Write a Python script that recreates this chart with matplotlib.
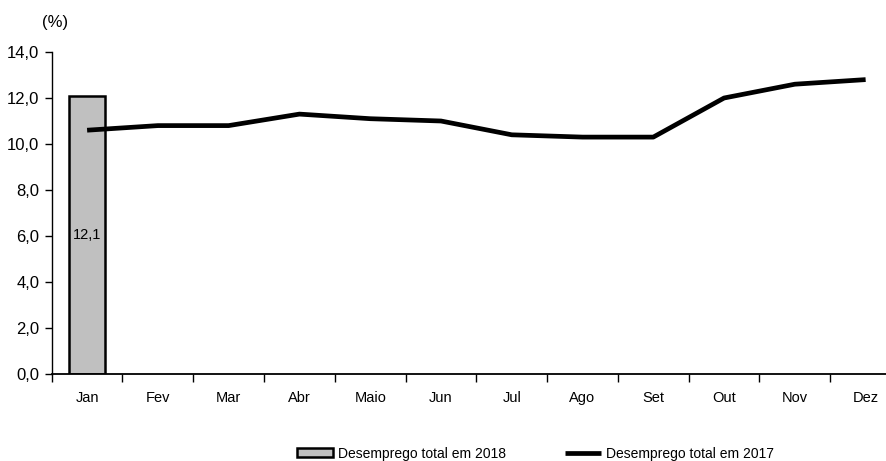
import matplotlib
matplotlib.use("Agg")
import matplotlib.pyplot as plt
import numpy as np

months = ["Jan", "Fev", "Mar", "Abr", "Maio", "Jun", "Jul", "Ago", "Set", "Out", "Nov", "Dez"]
rate_2018 = [12.1]
rate_2017 = [10.6, 10.8, 10.8, 11.3, 11.1, 11.0, 10.4, 10.3, 10.3, 12.0, 12.6, 12.8]
yticks = [0, 2, 4, 6, 8, 10, 12, 14]

plt.rcParams["font.family"] = ["Liberation Sans", "DejaVu Sans"]
plt.rcParams["font.size"] = 12

fig = plt.figure(figsize=(8.87, 4.61), dpi=100)
ax = fig.add_axes([0.0583, 0.1887, 0.9575, 0.6985])

x = np.arange(len(months))
bars = ax.bar(x[:len(rate_2018)], rate_2018, width=0.51, color="#c0c0c0",
              edgecolor="black", linewidth=1.8, label="Desemprego total em 2018", zorder=2)
line, = ax.plot(x, rate_2017, color="black", linewidth=3.4, solid_capstyle="butt",
                label="Desemprego total em 2017", zorder=3)

for xi, v in zip(x, rate_2018):
    ax.text(xi, v / 2, f"{v:.1f}".replace(".", ","), ha="center", va="center", fontsize=10.5)

ax.set_xlim(-0.5, len(months) - 0.5)
ax.set_ylim(0, 14)
ax.set_yticks(yticks)
ax.set_yticklabels([f"{t:.1f}".replace(".", ",") for t in yticks])
ax.set_xticks(x)
ax.set_xticklabels(months, fontsize=10.5)
ax.set_xticks(np.arange(-0.5, len(months) + 0.5, 1), minor=True)
ax.tick_params(axis="x", which="major", length=0, pad=12)
ax.tick_params(axis="x", which="minor", length=6, width=1, color="black")
ax.tick_params(axis="y", length=5, width=1, pad=4)

for s in ("top", "right"):
    ax.spines[s].set_visible(False)
ax.spines["left"].set_linewidth(1)
ax.spines["bottom"].set_linewidth(1.3)

fig.text(0.062, 0.952, "(%)", ha="center", va="center", fontsize=12)

fig.legend(handles=[bars, line], loc="center left", bbox_to_anchor=(0.335, 0.016),
           ncol=2, frameon=False, fontsize=10, handlelength=2.6, handletextpad=0.36,
           columnspacing=4.2, handleheight=0.6, borderpad=0, borderaxespad=0)

fig.savefig("out.png", dpi=100)
